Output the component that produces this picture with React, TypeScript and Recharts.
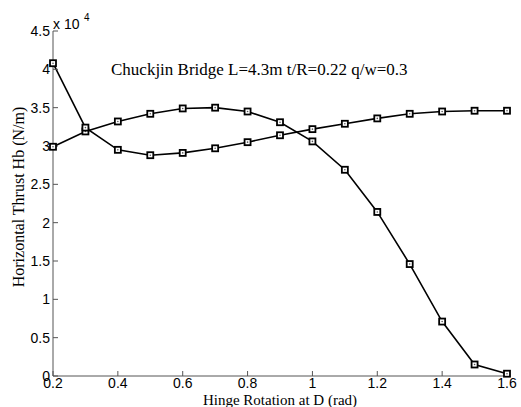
import React from "react";
import { Line, LineChart, XAxis, YAxis } from "recharts";

// hinge rotation at D (rad)
const rotation = [0.2, 0.3, 0.4, 0.5, 0.6, 0.7, 0.8, 0.9, 1.0, 1.1, 1.2, 1.3, 1.4, 1.5, 1.6];
// horizontal thrust Hb (N/m), two curves
const thrustFalling = [29900, 31900, 33200, 34200, 34900, 35000, 34500, 33100, 30600, 26900, 21400, 14600, 7100, 1500, 300];
const thrustRising = [40800, 32400, 29500, 28800, 29100, 29700, 30500, 31400, 32200, 32900, 33600, 34200, 34500, 34600, 34600];

const xTicks = [0.2, 0.4, 0.6, 0.8, 1, 1.2, 1.4, 1.6];
const yTicks = [0, 5000, 10000, 15000, 20000, 25000, 30000, 35000, 40000, 45000];

const data = rotation.map((r, i) => ({
  r,
  a: thrustFalling[i],
  b: thrustRising[i],
}));

const SERIF = "'Liberation Serif', 'Times New Roman', serif";
const SANS = "'Liberation Sans', Arial, sans-serif";

const SquareDot = (props: any) => {
  const { cx, cy } = props;
  if (cx == null || cy == null) return null;
  return (
    <g>
      <rect x={cx - 3} y={cy - 3} width={6} height={6} fill="#fff" stroke="#000" strokeWidth={1.8} />
      <circle cx={cx} cy={cy} r={0.8} fill="#555" />
    </g>
  );
};

const fmtY = (v: number) => String(v / 10000);
const blank = () => "";

export default function App() {
  return (
    <div style={{ position: "absolute", left: 0, top: 0, background: "#fff" }}>
      <LineChart
        width={521}
        height={407}
        data={data}
        margin={{ top: 31, right: 14, left: 0, bottom: 0 }}
        style={{ fontFamily: SANS }}
      >
        <XAxis
          dataKey="r"
          type="number"
          domain={[0.2, 1.6]}
          ticks={xTicks}
          height={31}
          tickSize={-5}
          tickMargin={7}
          stroke="#555"
          tick={{ fill: "#000", fontSize: 14, fontFamily: SANS }}
          tickLine={{ stroke: "#555" }}
        />
        <XAxis
          xAxisId="top"
          orientation="top"
          dataKey="r"
          type="number"
          domain={[0.2, 1.6]}
          ticks={xTicks}
          height={0}
          tickSize={-5}
          stroke="#555"
          tickFormatter={blank}
        />
        <YAxis
          type="number"
          domain={[0, 45000]}
          ticks={yTicks}
          width={53}
          tickSize={-5}
          tickMargin={8}
          stroke="#555"
          tickFormatter={fmtY}
          tick={{ fill: "#000", fontSize: 14, fontFamily: SANS }}
          tickLine={{ stroke: "#555" }}
        />
        <YAxis
          yAxisId="right"
          orientation="right"
          type="number"
          domain={[0, 45000]}
          ticks={yTicks}
          width={0}
          tickSize={-5}
          stroke="#555"
          tickFormatter={blank}
        />
        <Line
          dataKey="a"
          stroke="#000"
          strokeWidth={1.6}
          dot={<SquareDot />}
          activeDot={false}
          isAnimationActive={false}
        />
        <Line
          dataKey="b"
          stroke="#000"
          strokeWidth={1.6}
          dot={<SquareDot />}
          activeDot={false}
          isAnimationActive={false}
        />
        <text x={53} y={29} fontFamily={SANS} fontSize={14} fill="#000">
          x 10
        </text>
        <text x={84} y={21} fontFamily={SANS} fontSize={10} fill="#000">
          4
        </text>
        <text x={111} y={75} fontFamily={SERIF} fontSize={17} fill="#000">
          Chuckjin Bridge L=4.3m t/R=0.22 q/w=0.3
        </text>
        <text
          x={280}
          y={405}
          textAnchor="middle"
          fontFamily={SERIF}
          fontSize={15}
          fill="#000"
        >
          Hinge Rotation at D (rad)
        </text>
        <text
          x={24}
          y={197}
          textAnchor="middle"
          transform="rotate(-90 24 197)"
          fontFamily={SERIF}
          fontSize={16}
          fill="#000"
        >
          Horizontal Thrust Hb (N/m)
        </text>
      </LineChart>
    </div>
  );
}
